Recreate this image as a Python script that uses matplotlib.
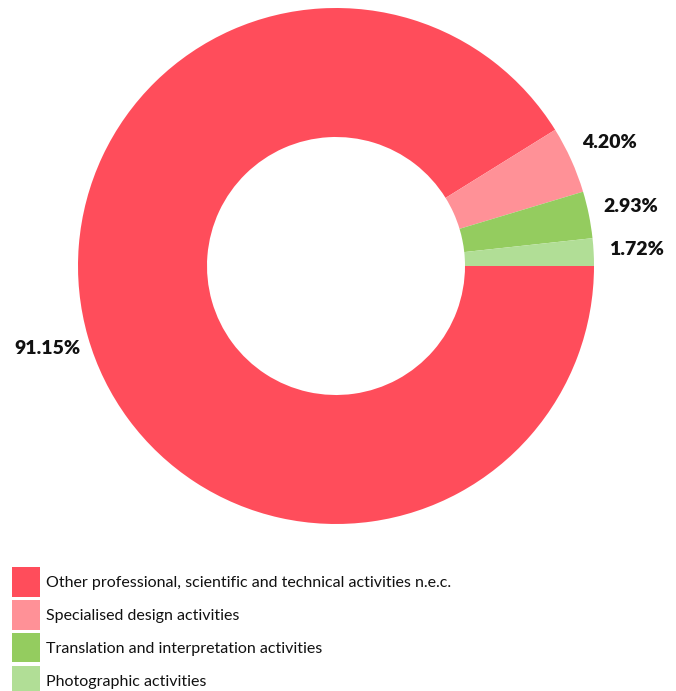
import matplotlib
matplotlib.use('Agg')
from matplotlib import pyplot as plt

categories = ['Other professional, scientific and technical activities n.e.c.',
              'Specialised design activities',
              'Translation and interpretation activities',
              'Photographic activities']
shares = [91.15, 4.20, 2.93, 1.72]
colors = ['#FF4D5B', '#FF9197', '#94CC5F', '#B1DE96']

plt.rcParams['font.family'] = ['Lato', 'DejaVu Sans']

W, H = 676, 691
fig = plt.figure(figsize=(W / 100, H / 100), dpi=100)
ax = fig.add_axes([0, 0, 1, 1])

# pie centre and radius in pixels
cx, cy, R = 336, 266, 258

wedges, texts = ax.pie(shares, colors=colors, startangle=0, counterclock=False,
                       radius=1, wedgeprops=dict(width=0.5, linewidth=0),
                       labels=['%.2f%%' % s for s in shares], labeldistance=1.165,
                       textprops=dict(fontsize=14, fontweight='heavy', color='#111111'))
for t in texts:
    t.set_horizontalalignment('center')
    t.set_verticalalignment('center')

ax.set_xlim(-cx / R, (W - cx) / R)
ax.set_ylim(-(H - cy) / R, cy / R)
ax.set_aspect('equal')
ax.axis('off')

leg = fig.legend(wedges, categories, loc='upper left',
                 bbox_to_anchor=(6 / W, 1 - 561 / H), frameon=False,
                 fontsize=11.5, handlelength=1.75, handleheight=2.45,
                 handletextpad=0.38, labelspacing=0.22, borderaxespad=0)
for txt in leg.get_texts():
    txt.set_color('#111111')

plt.savefig('out.png', dpi=100)
